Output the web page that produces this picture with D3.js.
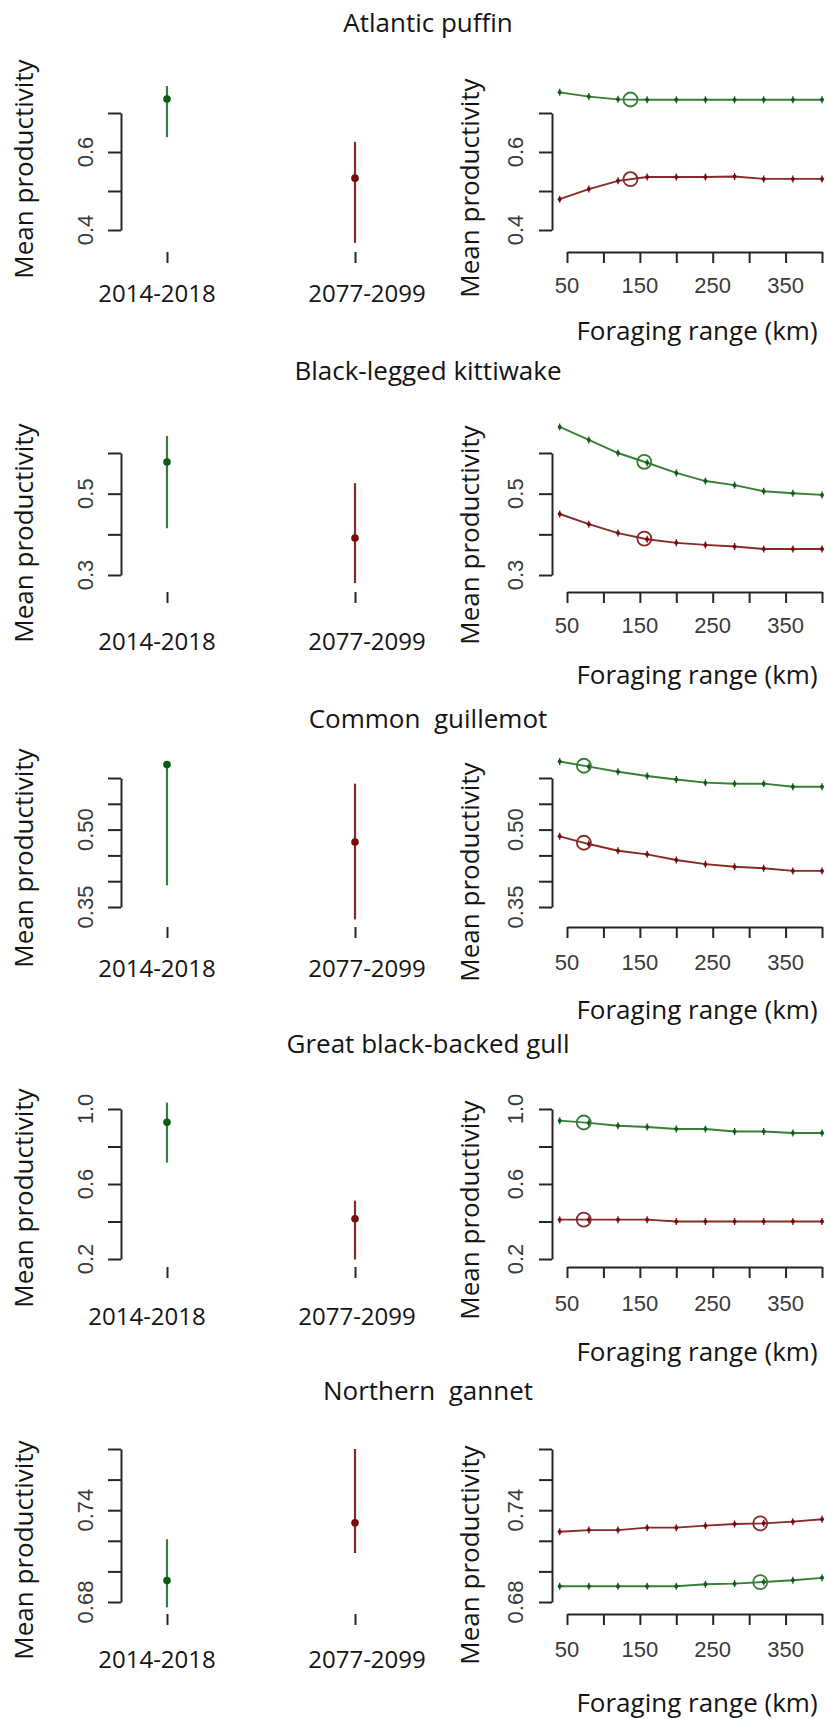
<!DOCTYPE html>
<meta charset="utf-8">
<style>

body {
  margin: 0;
  background: #fff;
}

svg text {
  font-family: "Open Sans", "Noto Sans", sans-serif;
  fill: #141414;
  white-space: pre;
}

.axis path, .axis line {
  stroke: #262626;
  stroke-width: 2px;
  fill: none;
}

.tick-label {
  font-family: "Liberation Sans", Arial, sans-serif !important;
  font-size: 22px;
  fill: #3a3a3a !important;
}

.title { font-size: 26px; }
.axis-title { font-size: 26px; }
.period-label { font-size: 24px; }

</style>

<div id="chart"></div>

<script src="https://cdn.jsdelivr.net/npm/d3@7"></script>

<script>

var W = 825, H = 1719;

// species shown, one panel each
var species = ["Atlantic puffin", "Black-legged kittiwake", "Common  guillemot",
               "Great black-backed gull", "Northern  gannet"];
var periods = ["2014-2018", "2077-2099"];

// foraging range values along the curves (km)
var rangeKm = [40, 80, 120, 160, 200, 240, 280, 320, 360, 400];
var rangeTicks = [50, 100, 150, 200, 250, 300, 350, 400];
var rangeTickLabels = [50, 150, 250, 350];
// species' own foraging range (open circle)
var foragingRange = [137.1, 156.1, 73.2, 73.0, 315.2];

// y ticks per species, and which of them carry a label
var prodTicks = [
  [0.4, 0.5, 0.6, 0.7],
  [0.3, 0.4, 0.5, 0.6],
  [0.35, 0.40, 0.45, 0.50, 0.55, 0.60],
  [0.2, 0.4, 0.6, 0.8, 1.0],
  [0.68, 0.70, 0.72, 0.74, 0.76, 0.78]
];
var prodTickLabels = [
  [0.4, 0.6],
  [0.3, 0.5],
  [0.35, 0.50],
  [0.2, 0.6, 1.0],
  [0.68, 0.74]
];
var prodFormat = [".1f", ".1f", ".2f", ".1f", ".2f"];

// mean productivity with interval, 2014-2018
var meanNow  = [0.736, 0.578, 0.626, 0.929, 0.694];
var lowNow   = [0.638, 0.415, 0.392, 0.714, 0.6765];
var highNow  = [0.769, 0.642, 0.630, 1.034, 0.721];
// and 2077-2099
var meanFuture = [0.533, 0.391, 0.476, 0.415, 0.7318];
var lowFuture  = [0.367, 0.280, 0.326, 0.197, 0.712];
var highFuture = [0.626, 0.526, 0.589, 0.511, 0.780];

// mean productivity against foraging range
var curveNow = [
  [0.753, 0.742, 0.735, 0.734, 0.734, 0.734, 0.734, 0.734, 0.734, 0.734],
  [0.664, 0.632, 0.600, 0.576, 0.551, 0.531, 0.521, 0.506, 0.501, 0.497],
  [0.632, 0.622, 0.612, 0.604, 0.597, 0.591, 0.589, 0.589, 0.583, 0.583],
  [0.938, 0.926, 0.911, 0.904, 0.893, 0.893, 0.880, 0.880, 0.872, 0.872],
  [0.6903, 0.6903, 0.6903, 0.6903, 0.6903, 0.6916, 0.6920, 0.6931, 0.6942, 0.6958]
];
var curveFuture = [
  [0.479, 0.505, 0.526, 0.536, 0.536, 0.536, 0.537, 0.531, 0.531, 0.531],
  [0.450, 0.425, 0.403, 0.388, 0.379, 0.374, 0.370, 0.364, 0.364, 0.364],
  [0.487, 0.472, 0.459, 0.452, 0.441, 0.433, 0.428, 0.425, 0.420, 0.420],
  [0.410, 0.410, 0.410, 0.410, 0.400, 0.400, 0.400, 0.400, 0.400, 0.400],
  [0.7259, 0.7270, 0.7270, 0.7286, 0.7286, 0.7299, 0.7310, 0.7314, 0.7325, 0.7341]
];

var colNow = {line: "#387d38", dot: "#0d5c16"};
var colFuture = {line: "#862a2a", dot: "#7a0a0a"};

var layout = [
  {title: 32,   yBot: 230,  yTop: 113,  axisY: 252,  catBase: 302,  tickBase: 293,  xlabBase: 340,  ylabL: 169,  ylabR: 188,  catShift: 0},
  {title: 380,  yBot: 575,  yTop: 453,  axisY: 592,  catBase: 650,  tickBase: 633,  xlabBase: 684,  ylabL: 533,  ylabR: 535,  catShift: 0},
  {title: 728,  yBot: 907,  yTop: 778,  axisY: 927,  catBase: 977,  tickBase: 970,  xlabBase: 1019, ylabL: 858,  ylabR: 872,  catShift: 0},
  {title: 1053, yBot: 1259, yTop: 1109, axisY: 1267, catBase: 1325, tickBase: 1311, xlabBase: 1361, ylabL: 1198, ylabR: 1210, catShift: -10},
  {title: 1400, yBot: 1602, yTop: 1449, axisY: 1614, catBase: 1668, tickBase: 1657, xlabBase: 1712, ylabL: 1550, ylabR: 1555, catShift: 0}
];

var leftAxisX = 121, rightAxisX = 552;

var svg = d3.select("#chart").append("svg")
    .attr("width", W)
    .attr("height", H);

var xCat = d3.scalePoint().domain(periods).range([167, 355]);
var xRange = d3.scaleLinear().domain([50, 400]).range([567, 822]);

species.forEach(function(name, i) {
  var L = layout[i];
  var ticks = prodTicks[i];
  var y = d3.scaleLinear()
      .domain([ticks[0], ticks[ticks.length - 1]])
      .range([L.yBot, L.yTop]);
  var fmt = d3.format(prodFormat[i]);
  var g = svg.append("g").attr("class", "panel");

  g.append("text")
      .attr("class", "title")
      .attr("x", 428)
      .attr("y", L.title)
      .attr("text-anchor", "middle")
      .text(name);

  // ---- left: the two periods ----
  g.append("g")
      .attr("class", "axis")
      .attr("transform", `translate(${leftAxisX},0)`)
      .call(d3.axisLeft(y).tickValues(ticks).tickSize(13).tickSizeOuter(0).tickFormat(""));

  var catAxis = g.append("g")
      .attr("class", "axis")
      .attr("transform", `translate(0,${L.axisY})`)
      .call(d3.axisBottom(xCat).tickSize(11).tickSizeOuter(0).tickFormat(""));
  catAxis.select(".domain").remove();

  var shifts = [-10, 12];
  periods.forEach(function(p, j) {
    g.append("text")
        .attr("class", "period-label")
        .attr("x", xCat(p) + shifts[j] + L.catShift)
        .attr("y", L.catBase)
        .attr("text-anchor", "middle")
        .text(p);
  });

  var bars = [
    {p: periods[0], m: meanNow[i], lo: lowNow[i], hi: highNow[i], c: colNow},
    {p: periods[1], m: meanFuture[i], lo: lowFuture[i], hi: highFuture[i], c: colFuture}
  ];
  bars.forEach(function(b) {
    g.append("line")
        .attr("x1", xCat(b.p)).attr("x2", xCat(b.p))
        .attr("y1", y(b.lo)).attr("y2", y(b.hi))
        .attr("stroke", b.c.line)
        .attr("stroke-width", 2.2);
    g.append("circle")
        .attr("cx", xCat(b.p)).attr("cy", y(b.m))
        .attr("r", 3.8)
        .attr("fill", b.c.dot);
  });

  prodTickLabels[i].forEach(function(v) {
    g.append("text")
        .attr("class", "tick-label")
        .attr("transform", `translate(93,${y(v)}) rotate(-90)`)
        .attr("text-anchor", "middle")
        .text(fmt(v));
    g.append("text")
        .attr("class", "tick-label")
        .attr("transform", `translate(523,${y(v)}) rotate(-90)`)
        .attr("text-anchor", "middle")
        .text(fmt(v));
  });

  g.append("text")
      .attr("class", "axis-title")
      .attr("transform", `translate(33,${L.ylabL}) rotate(-90)`)
      .attr("text-anchor", "middle")
      .text("Mean productivity");

  // ---- right: productivity against foraging range ----
  g.append("g")
      .attr("class", "axis")
      .attr("transform", `translate(${rightAxisX},0)`)
      .call(d3.axisLeft(y).tickValues(ticks).tickSize(13).tickSizeOuter(0).tickFormat(""));

  g.append("g")
      .attr("class", "axis")
      .attr("transform", `translate(0,${L.axisY})`)
      .call(d3.axisBottom(xRange).tickValues(rangeTicks).tickSize(11).tickSizeOuter(0).tickFormat(""));

  rangeTickLabels.forEach(function(v) {
    g.append("text")
        .attr("class", "tick-label")
        .attr("x", xRange(v))
        .attr("y", L.tickBase)
        .attr("text-anchor", "middle")
        .text(v);
  });

  g.append("text")
      .attr("class", "axis-title")
      .attr("transform", `translate(479,${L.ylabR}) rotate(-90)`)
      .attr("text-anchor", "middle")
      .text("Mean productivity");

  g.append("text")
      .attr("class", "axis-title")
      .attr("x", 697)
      .attr("y", L.xlabBase)
      .attr("text-anchor", "middle")
      .text("Foraging range (km)");

  var line = d3.line()
      .x((d, k) => xRange(rangeKm[k]))
      .y(d => y(d));

  [{vals: curveNow[i], c: colNow}, {vals: curveFuture[i], c: colFuture}].forEach(function(s) {
    g.append("path")
        .attr("d", line(s.vals))
        .attr("fill", "none")
        .attr("stroke", s.c.line)
        .attr("stroke-width", 1.9);

    var pts = g.append("g").selectAll("g")
        .data(s.vals)
        .enter().append("g")
        .attr("transform", (d, k) => `translate(${xRange(rangeKm[k])},${y(d)})`);
    pts.append("line")
        .attr("y1", -3.5).attr("y2", 3.5)
        .attr("stroke", s.c.dot)
        .attr("stroke-width", 1.3);
    pts.append("circle")
        .attr("r", 2)
        .attr("fill", s.c.dot);

    // the species' foraging range
    var along = d3.scaleLinear().domain(rangeKm).range(s.vals);
    g.append("circle")
        .attr("cx", xRange(foragingRange[i]))
        .attr("cy", y(along(foragingRange[i])))
        .attr("r", 7)
        .attr("fill", "none")
        .attr("stroke", s.c.line)
        .attr("stroke-width", 1.8);
  });
});

</script>
